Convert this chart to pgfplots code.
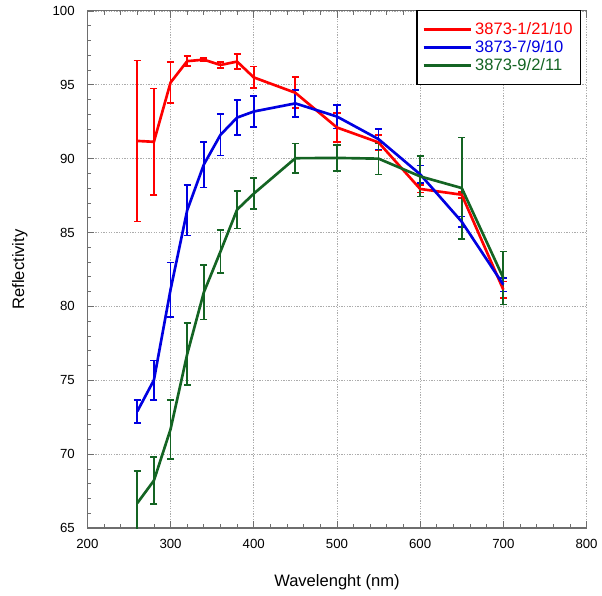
\documentclass[border=0pt]{standalone}
\usepackage{pgfplots}
\pgfplotsset{compat=1.18}
\usepackage{pgfplotstable}
\usepackage{fontspec}
\setmainfont{Liberation Sans}
\definecolor{cred}{RGB}{255,0,0}
\definecolor{cblue}{RGB}{0,0,225}
\definecolor{cgreen}{RGB}{20,100,35}
\definecolor{axgray}{RGB}{110,110,110}

\pgfplotstableread{
x y e
260 91.20 5.45
280 91.14 3.60
300 95.15 1.40
320 96.60 0.35
340 96.70 0.10
360 96.34 0.22
380 96.57 0.50
400 95.50 0.73
450 94.46 1.05
500 92.11 1.00
550 91.10 0.50
600 87.95 0.25
650 87.56 0.20
700 81.13 0.56
}\redtab

\pgfplotstableread{
x y e
260 72.89 0.76
280 75.01 1.33
300 81.13 1.85
320 86.50 1.70
340 89.60 1.55
360 91.61 1.40
380 92.78 1.20
400 93.19 1.05
450 93.74 0.90
500 92.85 0.80
550 91.32 0.70
600 88.94 0.60
650 85.73 0.35
700 81.47 0.47
}\bluetab

\pgfplotstableread{
x y e
260 66.68 2.20
280 68.21 1.60
300 71.68 2.00
320 76.76 2.10
340 80.95 1.83
360 83.71 1.47
380 86.55 1.28
400 87.63 1.06
450 90.03 1.00
500 90.05 0.87
550 90.00 1.07
600 88.80 1.37
650 88.01 3.43
700 81.92 1.80
}\greentab

\pgfplotsset{
  errplot/.style={line width=1.3pt, mark=none, forget plot,
    error bars/.cd, y dir=both, y explicit,
    error bar style={line width=1.3pt, #1},
    error mark options={rotate=90, mark size=2.7pt, line width=1.3pt, #1}},
}

\begin{document}
\begin{tikzpicture}
\begin{axis}[
  name=ax,
  scale only axis, width=377.25pt, height=390.75pt,
  xmin=200, xmax=800, ymin=65, ymax=100,
  xtick={200,300,...,800}, ytick={65,70,...,100},
  minor x tick num=4, minor y tick num=4,
  axis x line=box, axis y line=left,
  axis line style={-, axgray, line width=0.8pt},
  tick align=inside,
  tick style={axgray, line width=0.6pt},
  major tick length=5pt, minor tick length=3pt,
  grid=major,
  major grid style={gray!65, line width=0.6pt, dash pattern=on 1pt off 1pt},
  ticklabel style={font=\fontsize{10}{12}\selectfont},
  x tick label style={yshift=-5pt},
  y tick label style={xshift=-6pt},
  /pgf/number format/assume math mode=true,
  xlabel={Wavelenght (nm)},
  ylabel={Reflectivity},
  xlabel style={font=\fontsize{12.5}{15}\selectfont, at={(axis description cs:0.5,-0.105)}, anchor=center},
  ylabel style={font=\fontsize{12.5}{15}\selectfont, at={(axis description cs:-0.135,0.5)}, anchor=center},
  legend style={at={(axis description cs:1,1)}, anchor=north east, xshift=-4pt, yshift=0.75pt,
    draw=black, line width=1pt, font=\fontsize{12.5}{15}\selectfont,
    inner xsep=4pt, inner ysep=7pt, row sep=-1pt},
  legend cell align=left,
  legend image code/.code={\draw[#1, line width=2pt] (0pt,0pt) -- (36pt,0pt);},
]
\addplot[cred, draw=none, errplot={cred}] table[x=x, y=y, y error=e] {\redtab};
\addplot[cblue, draw=none, errplot={cblue}] table[x=x, y=y, y error=e] {\bluetab};
\addplot[cgreen, draw=none, errplot={cgreen}] table[x=x, y=y, y error=e] {\greentab};
\addplot[color=cred, line width=2pt, mark=none] table[x=x, y=y] {\redtab};
\addlegendentry{\textcolor{cred}{3873-1/21/10}}
\addplot[color=cblue, line width=2pt, mark=none] table[x=x, y=y] {\bluetab};
\addlegendentry{\textcolor{cblue}{3873-7/9/10}}
\addplot[color=cgreen, line width=2pt, mark=none] table[x=x, y=y] {\greentab};
\addlegendentry{\textcolor{cgreen}{3873-9/2/11}}
\end{axis}
\path ([shift={(-66pt,-51pt)}]ax.south west) rectangle ([shift={(8.25pt,8.25pt)}]ax.north east);
\end{tikzpicture}
\end{document}
